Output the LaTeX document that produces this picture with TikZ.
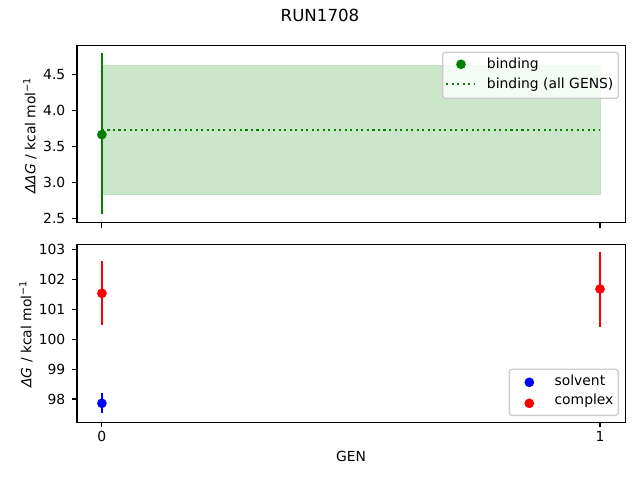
\documentclass[tikz,border=0pt]{standalone}
\usepackage{fontspec}
\setmainfont{DejaVu Sans}
\definecolor{mplgreen}{RGB}{0,128,0}
\definecolor{mplblue}{RGB}{0,0,255}
\definecolor{mplred}{RGB}{255,0,0}
\definecolor{bandfill}{RGB}{204,230,204}
\definecolor{bandedge}{RGB}{192,224,192}
\definecolor{legedge}{RGB}{204,204,204}
\begin{document}
\begin{tikzpicture}[x=0.72pt,y=-0.72pt,
  spine/.style={line width=0.8pt,black},
  tickmark/.style={line width=0.8pt,black},
  errbar/.style={line width=1.5pt},
  dotline/.style={line width=1.5pt,dash pattern=on 1.5pt off 2.475pt},
  lbl/.style={font=\fontsize{10}{12}\selectfont,inner sep=0pt},
  legbox/.style={draw=legedge,fill=white,fill opacity=0.8,rounded corners=2pt,line width=1pt},
  mk/.style={radius=3.5pt}]
\useasboundingbox (0,0) rectangle (640,480);
% title
\node[font=\fontsize{12}{14}\selectfont,inner sep=0pt,anchor=base] (title) at (320,21.7) {RUN1708};
% ---------------- top axes ----------------
\filldraw[fill=bandfill,draw=bandedge,line width=0.6pt] (101.9,65.7) rectangle (600,194.3);
\draw[mplgreen,dotline] (101.9,129.7) -- (600,129.7);
\draw[mplgreen,errbar] (101.9,53.3) -- (101.9,214.3);
\fill[mplgreen] (101.9,134.6) circle[mk];
\draw[spine] (77,45.3) rectangle (625.3,222.7);
\foreach \y/\t [count=\i] in {218.7/2.5,182.6/3.0,146.5/3.5,110.4/4.0,74.3/4.5}{
  \draw[tickmark] (72.1,\y) -- (77,\y);
  \node[lbl,anchor=east] (topy\i) at (65.6,\y) {\t};
}
\foreach \x [count=\i] in {101.9,600}{
  \draw[tickmark] (\x,222.7) -- (\x,227.6);
}
\node[lbl,rotate=90] (ylabtop) at (30,135.5) {\textit{ΔΔG} / kcal mol\textsuperscript{−1}};
% top legend
\draw[legbox] (442.7,52.3) rectangle (618.3,98.3);
\fill[mplgreen] (461,64.3) circle[mk];
\node[lbl,anchor=base west] (legbind) at (486.7,68.8) {binding};
\draw[mplgreen,dotline] (446,83.7) -- (475,83.7);
\node[lbl,anchor=base west] (legall) at (486.7,88.2) {binding (all GENS)};
% ---------------- bottom axes ----------------
\draw[mplblue,errbar] (101.9,393.3) -- (101.9,413.3);
\fill[mplblue] (101.9,403.3) circle[mk];
\draw[mplred,errbar] (101.9,261) -- (101.9,325.3);
\fill[mplred] (101.9,293.3) circle[mk];
\draw[mplred,errbar] (600,251.7) -- (600,326.7);
\fill[mplred] (600,289) circle[mk];
\draw[spine] (77,244.3) rectangle (625.3,422.3);
\foreach \y/\t [count=\i] in {399/98,369.1/99,339.3/100,309.4/101,279.56/102,249.7/103}{
  \draw[tickmark] (72.1,\y) -- (77,\y);
  \node[lbl,anchor=east] (boty\i) at (65.6,\y) {\t};
}
\foreach \x/\t [count=\i] in {101.9/0,600/1}{
  \draw[tickmark] (\x,422.3) -- (\x,427.2);
  \node[lbl,anchor=base] (botx\i) at (\x,441.7) {\t};
}
\node[lbl,anchor=base] (xlab) at (351,461.7) {GEN};
\node[lbl,rotate=90] (ylabbot) at (26,334) {\textit{ΔG} / kcal mol\textsuperscript{−1}};
% bottom legend
\draw[legbox] (509.3,369.3) rectangle (618.3,415.3);
\fill[mplblue] (529.3,382.3) circle[mk];
\node[lbl,anchor=base west] (legsolv) at (554.3,385) {solvent};
\fill[mplred] (529.3,403.3) circle[mk];
\node[lbl,anchor=base west] (legcomp) at (554.3,404.5) {complex};
\end{tikzpicture}
\end{document}
